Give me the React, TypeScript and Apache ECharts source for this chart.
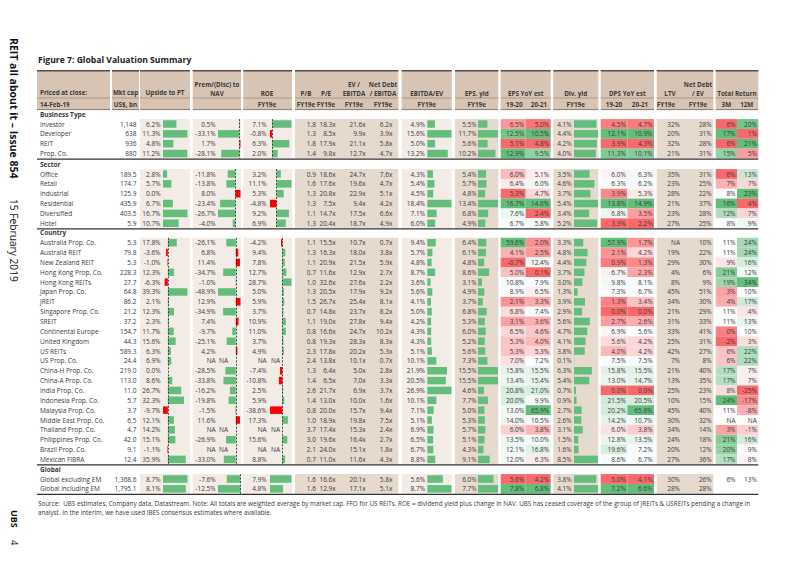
import { useEffect, useRef } from "react";
import * as echarts from "echarts";

const sectionTitles = ["Business Type", "Sector", "Country", "Global"];
const sectionSizes = [4, 6, 23, 2];

const rowNames = [
  "Investor", "Developer", "REIT", "Prop. Co.",
  "Office", "Retail", "Industrial", "Residential", "Diversified", "Hotel",
  "Australia Prop. Co.", "Australia REIT", "New Zealand REIT", "Hong Kong Prop. Co.", "Hong Kong REITs",
  "Japan Prop. Co.", "JREIT", "Singapore Prop. Co.", "SREIT", "Continental Europe", "United Kingdom",
  "US REITs", "US Prop. Co.", "China-H Prop. Co.", "China-A Prop. Co.", "India Prop. Co.",
  "Indonesia Prop. Co.", "Malaysia Prop. Co.", "Middle East Prop. Co.", "Thailand Prop. Co.",
  "Philippines Prop. Co.", "Brazil Prop. Co.", "Mexican FIBRA",
  "Global excluding EM", "Global including EM",
];
const mktCap = [1148, 638, 936, 880, 189.5, 174.7, 125.9, 435.9, 403.5, 5.9, 5.3, 79.8, 5.3, 228.3, 27.7, 64.8, 86.2, 21.2, 37.2, 154.7, 44.3, 589.3, 24.4, 219.0, 113.0, 11.0, 5.7, 3.7, 6.5, 4.7, 42.0, 9.1, 12.4, 1368.6, 1795.1];
const upsidePT = [6.2, 11.3, 4.8, 11.2, 2.8, 5.7, 0.0, 6.7, 16.7, 10.7, 17.8, -3.6, -1.0, 12.3, -6.3, 39.3, 2.1, 12.3, 2.3, 11.7, 15.6, 6.3, 6.9, 0.0, 8.6, 26.7, 32.3, -9.7, 12.1, 14.2, 15.1, -1.1, 35.9, 8.7, 8.1];
const premNAV = [0.5, -33.1, 1.7, -28.1, -11.8, -13.8, 8.0, -23.4, -26.7, -4.0, -26.1, 6.8, 11.4, -34.7, -1.0, -48.9, 12.9, -34.9, 7.4, -9.7, -25.1, 4.2, null, -28.5, -33.8, -16.2, -19.8, -1.5, 11.6, null, -26.9, null, -33.0, -7.6, -12.5];
const roeFY19 = [7.1, -0.8, 6.3, 2.0, 3.2, 11.1, 5.3, -4.8, 9.2, 6.9, -4.2, 9.4, 7.8, 12.7, 28.7, 5.0, 5.9, 3.7, 10.9, 11.0, 3.7, 4.9, null, -7.4, -10.8, 2.5, 5.9, -38.6, 17.3, null, 15.6, null, 8.8, 7.9, 4.8];
const pbFY19 = [1.8, 1.3, 1.8, 1.4, 0.9, 1.6, 1.3, 1.3, 1.1, 1.3, 1.1, 1.3, 1.1, 0.7, 1.0, 1.3, 1.5, 0.7, 1.1, 0.8, 0.8, 2.3, 2.4, 1.3, 1.4, 2.6, 1.4, 0.8, 1.0, 3.7, 3.0, 2.1, 0.7, 1.6, 1.6];
const peFY19 = [18.3, 8.5, 17.9, 9.8, 18.6, 17.6, 20.8, 7.5, 14.7, 20.4, 15.5, 16.3, 20.9, 11.6, 32.6, 20.5, 26.7, 14.8, 19.0, 16.6, 19.3, 17.8, 13.8, 6.4, 6.5, 21.7, 13.0, 20.0, 18.9, 17.4, 19.6, 24.0, 11.0, 16.6, 12.9];
const evEbitda = [21.6, 9.9, 21.1, 12.7, 24.7, 19.6, 22.9, 9.4, 17.5, 18.7, 10.7, 18.0, 21.5, 12.9, 27.6, 17.9, 25.4, 23.7, 27.8, 24.7, 28.3, 20.2, 10.1, 5.0, 7.0, 6.9, 10.0, 15.7, 19.8, 15.3, 16.4, 15.1, 11.6, 20.1, 17.1];
const ndEbitda = [6.2, 3.9, 5.8, 4.7, 7.6, 4.7, 5.1, 4.2, 6.6, 4.9, 0.7, 3.8, 5.9, 2.7, 2.2, 9.2, 8.1, 8.2, 9.4, 10.2, 8.3, 5.3, 0.7, 2.8, 3.3, 3.7, 1.6, 9.4, 7.5, 2.4, 2.7, 1.8, 4.3, 5.8, 5.1];
const ebitdaEV = [4.9, 15.6, 5.0, 13.2, 4.3, 5.4, 4.5, 18.4, 7.1, 6.0, 9.4, 5.7, 4.8, 8.7, 3.6, 5.6, 4.1, 5.0, 4.2, 4.3, 4.3, 5.1, 10.1, 21.9, 20.5, 26.9, 10.1, 7.1, 5.1, 6.9, 6.5, 6.7, 8.8, 5.6, 8.7];
const epsYield = [5.5, 11.7, 5.6, 10.2, 5.4, 5.7, 4.8, 13.4, 6.8, 4.9, 6.4, 6.1, 4.8, 8.6, 3.1, 4.9, 3.7, 6.8, 5.3, 6.0, 5.2, 5.6, 7.3, 15.5, 15.5, 4.6, 7.7, 5.0, 5.3, 5.7, 5.1, 4.3, 9.1, 6.0, 7.7];
const epsYoY1920 = [6.5, 12.5, 5.1, 12.9, 6.0, 6.4, 5.3, 16.7, 7.6, 6.7, 59.6, 4.1, -0.7, 5.0, 10.8, 8.9, 2.1, 6.8, 3.1, 6.5, 5.3, 5.3, 7.0, 15.8, 13.4, 20.8, 20.0, 13.0, 14.0, 6.0, 13.5, 12.1, 12.0, 5.6, 7.8];
const epsYoY2021 = [5.0, 10.5, 4.8, 9.5, 5.1, 6.0, 4.7, 14.6, 2.4, 5.8, 2.0, 2.5, 12.4, 0.1, 7.9, 6.5, 3.3, 7.4, 3.6, 4.6, 4.0, 5.3, 7.2, 15.5, 15.4, 21.0, 9.9, 65.9, 10.5, 3.8, 10.0, 16.8, 6.3, 4.2, 6.8];
const divYield = [4.1, 4.4, 4.2, 4.0, 3.5, 4.6, 3.7, 5.4, 3.4, 5.2, 3.3, 4.8, 4.4, 3.7, 3.0, 1.3, 3.9, 2.9, 5.6, 4.7, 4.1, 3.8, 0.1, 6.3, 5.4, 0.7, 0.9, 2.7, 2.6, 3.1, 1.5, 1.6, 8.5, 3.8, 4.1];
const dpsYoY1920 = [4.5, 12.1, 3.9, 11.3, 6.0, 6.3, 3.9, 13.8, 6.8, 3.3, 57.9, 2.1, 0.9, 6.7, 9.8, 7.3, 1.3, 0.0, 2.7, 6.9, 5.6, 4.0, 7.5, 15.8, 13.0, 0.0, 21.5, 20.2, 14.2, 6.0, 12.8, 19.6, 8.6, 5.0, 7.2];
const dpsYoY2021 = [4.7, 10.9, 4.3, 10.1, 6.3, 6.2, 5.3, 14.9, 3.5, 2.2, 1.7, 4.2, 1.3, 2.3, 8.1, 6.7, 3.4, 0.0, 2.6, 5.6, 4.2, 4.2, 7.5, 15.5, 14.7, 0.0, 20.5, 65.6, 10.7, 3.8, 13.5, 7.2, 6.7, 4.1, 6.6];
const ltvFY19 = [32, 20, 32, 21, 35, 23, 28, 21, 23, 27, null, 19, 29, 4, 8, 45, 34, 21, 31, 33, 25, 42, 7, 21, 13, 25, 10, 45, 30, 34, 24, 20, 27, 30, 28];
const ndEV = [28, 31, 28, 31, 31, 25, 22, 37, 28, 25, 10, 22, 30, 6, 9, 51, 30, 29, 33, 41, 31, 27, 8, 40, 35, 23, 15, 40, 32, 14, 18, 12, 36, 26, 28];
const return3M = [6, 17, 6, 15, 6, 7, 8, 16, 12, 8, 11, 11, 9, 21, 19, 3, 4, 11, 11, 0, -2, 6, 6, 17, 17, 8, 24, 11, null, 3, 21, 20, 17, 6, undefined];
const return12M = [20, 1, 21, 5, 13, 7, 23, 4, 7, 9, 24, 24, 16, 12, 34, 10, 17, 4, 13, 10, 3, 22, 22, 7, 7, -25, -17, -8, null, -1, 16, 9, 8, 13, undefined];

const FONT = "'Open Sans', 'Noto Sans', sans-serif";
const FS = 6.5;
const HFS = 6.3;
const TXT = "#3a3a3a";
const GREEN = "#63be7b";
const RED_BAR = "#ff0000";
const TAN = "#e6d9ce";
const LIGHT = "#f2ebe6";
const HEAD = "#d8c4b4";
const ROW_H = 9.85;
const FIRST_ROW_Y = [124, 174, 242.7, 479];

type V = number | null | undefined;

const pct1 = (v: V) => (v == null ? "NA" : v.toFixed(1) + "%");
const mult = (v: V) => (v == null ? "NA" : v.toFixed(1) + "x");
const num1 = (v: V) => (v == null ? "NA" : v.toFixed(1));
const pct0 = (v: V) => (v === undefined ? "" : v === null ? "NA" : v + "%");

function lerp(a: number[], b: number[], t: number) {
  const c = a.map((x, i) => Math.round(x + (b[i] - x) * Math.max(0, Math.min(1, t))));
  return `rgb(${c[0]},${c[1]},${c[2]})`;
}
function heatColors(vals: V[]) {
  const nums = vals.filter((v) => typeof v === "number") as number[];
  const s = [...nums].sort((a, b) => a - b);
  const mn = s[0], mx = s[s.length - 1];
  const pos = (s.length - 1) * 0.5;
  const lo = Math.floor(pos), hi = Math.ceil(pos);
  const mid = s[lo] + (s[hi] - s[lo]) * (pos - lo);
  const R = [248, 105, 107], W = [252, 252, 255], G = [99, 190, 123];
  return vals.map((v) => {
    if (typeof v !== "number") return "#ffffff";
    if (v <= mid) return mid === mn ? lerp(R, W, 1) : lerp(R, W, (v - mn) / (mid - mn));
    return mx === mid ? lerp(W, G, 0) : lerp(W, G, (v - mid) / (mx - mid));
  });
}

function buildOption() {
  const grid: any[] = [], xAxis: any[] = [], yAxis: any[] = [], series: any[] = [], graphic: any[] = [];
  const starts = sectionSizes.map((_, i) => sectionSizes.slice(0, i).reduce((a, b) => a + b, 0));
  const labelBase = { interval: 0, fontSize: FS, fontFamily: FONT, color: TXT };

  const txt = (x: number, y: number, text: string, o: any = {}) =>
    graphic.push({
      type: "text", x, y, z: 10, rotation: o.rotation || 0,
      style: {
        text, fill: o.fill || TXT, fontSize: o.size || FS, fontWeight: o.bold ? "bold" : "normal",
        fontFamily: FONT, align: o.align || "center", verticalAlign: "middle",
      },
    });
  const rect = (x0: number, y0: number, x1: number, y1: number, fill: string, z = -1) =>
    graphic.push({ type: "rect", z, shape: { x: x0, y: y0, width: x1 - x0, height: y1 - y0 }, style: { fill } });
  const line = (x0: number, y0: number, x1: number, y1: number, stroke: string, w: number) =>
    graphic.push({ type: "line", z: 5, shape: { x1: x0, y1: y0, x2: x1, y2: y1 }, style: { stroke, lineWidth: w } });

  // ---- headers ----
  const headBlocks = [
    [37, 110], [112, 139], [140, 190], [192.7, 241], [243.3, 292], [295, 398.3], [401.7, 451.7],
    [455, 498.3], [500.7, 550.7], [553.3, 598.3], [600.7, 654], [656.7, 713.3], [715.7, 758.3],
  ];
  headBlocks.forEach(([a, b]) => {
    rect(a, 70, b, 110, HEAD);
    line(a, 70.8, b, 70.8, "#5b4b40", 1.6);
    line(a, 98, b, 98, "#a58f7e", 0.8);
    line(a, 109.6, b, 109.6, "#7d6757", 0.8);
  });
  const H = { bold: true, size: HFS };
  txt(40, 92, "Priced at close:", { ...H, align: "left" });
  txt(40, 104, "14-Feb-19", { ...H, align: "left" });
  txt(125.5, 92, "Mkt cap", H); txt(125.5, 104, "US$, bn", H);
  txt(165, 92, "Upside to PT", H);
  txt(217, 84.3, "Prem/(Disc) to", H); txt(217, 93.3, "NAV", H);
  txt(267, 93.3, "ROE", H); txt(267, 104, "FY19e", H);
  txt(306, 93.3, "P/B", H); txt(306, 104, "FY19e", H);
  txt(326, 93.3, "P/E", H); txt(326, 104, "FY19e", H);
  txt(354, 84.3, "EV /", H); txt(354, 93.3, "EBITDA", H); txt(354, 104, "FY19e", H);
  txt(383, 84.3, "Net Debt", H); txt(383, 93.3, "/ EBITDA", H); txt(383, 104, "FY19e", H);
  txt(426.7, 93.3, "EBITDA/EV", H); txt(426.7, 104, "FY19e", H);
  txt(476.7, 93.3, "EPS. yld", H); txt(476.7, 104, "FY19e", H);
  txt(525.7, 93.3, "EPS YoY est", H); txt(514.3, 104, "19-20", H); txt(539, 104, "20-21", H);
  txt(575.7, 93.3, "Div. yld", H); txt(575.7, 104, "FY19e", H);
  txt(627.3, 93.3, "DPS YoY est", H); txt(614, 104, "19-20", H); txt(640, 104, "20-21", H);
  txt(670, 93.3, "LTV", H); txt(666, 104, "FY19e", H);
  txt(698, 84.3, "Net Debt", H); txt(698, 93.3, "/ EV", H); txt(698, 104, "FY19e", H);
  txt(737, 93.3, "Total Return", H); txt(726.3, 104, "3M", H); txt(746.7, 104, "12M", H);

  sectionTitles.forEach((title, si) => {
    const n = sectionSizes[si], st = starts[si];
    const top = FIRST_ROW_Y[si] - ROW_H / 2, height = n * ROW_H;
    const ids = Array.from({ length: n }, (_, i) => st + i);
    const cats = ids.map((i) => rowNames[i]);
    const pick = (arr: V[]) => ids.map((i) => arr[i]);

    txt(40, FIRST_ROW_Y[si] - 10, title, { bold: true, align: "left" });
    line(37, top + height + 0.6, 758.3, top + height + 0.6, "#333", 1.2);

    [[140, 190, LIGHT], [192.7, 241, LIGHT], [243.3, 292, LIGHT], [295, 398.3, TAN], [401.7, 451.7, LIGHT],
     [455, 498.3, TAN], [553.3, 598.3, TAN], [656.7, 713.3, TAN]].forEach(([a, b, c]) =>
      rect(a as number, top, b as number, top + height, c as string));

    const addGrid = (left: number, width: number) => {
      grid.push({ left, width, top, height });
      return grid.length - 1;
    };
    const catAxis = (g: number, texts: string[], margin: number, align = "right") => {
      yAxis.push({
        type: "category", gridIndex: g, data: cats, inverse: true,
        axisLine: { show: false, onZero: false }, axisTick: { show: false }, splitLine: { show: false },
        axisLabel: { ...labelBase, margin, align, formatter: (_v: string, i: number) => texts[i] },
      });
      return yAxis.length - 1;
    };

    const textCol = (right: number, texts: string[], align = "right", margin = 0) => {
      const g = addGrid(right, 1);
      xAxis.push({ type: "value", gridIndex: g, show: false });
      catAxis(g, texts, margin, align);
    };

    const barCol = (vr: number, b0: number, b1: number, arr: V[], negGood = false) => {
      const vals = pick(arr);
      const g = addGrid(b0, b1 - b0);
      const nums = vals.filter((v) => typeof v === "number") as number[];
      const mn = Math.min(0, ...nums), mx = Math.max(0, ...nums);
      xAxis.push({ type: "value", gridIndex: g, min: mn, max: mx, show: false });
      const yi = catAxis(g, vals.map((v) => pct1(v)), b0 - vr);
      if (vals.some((v) => v == null)) {
        yAxis.push({
          type: "category", gridIndex: g, data: cats, inverse: true, position: "left",
          axisLine: { show: false, onZero: false }, axisTick: { show: false },
          axisLabel: { ...labelBase, margin: -1, align: "left", formatter: (_v: string, i: number) => (vals[i] == null ? "NA" : "") },
        });
      }
      series.push({
        type: "bar", xAxisIndex: xAxis.length - 1, yAxisIndex: yi, barWidth: 7.5, silent: true,
        data: vals.map((v) =>
          v == null ? "-" : { value: v, itemStyle: { color: (v < 0) !== negGood ? RED_BAR : GREEN } }),
        markLine: mn < 0
          ? { silent: true, symbol: ["none", "none"], label: { show: false },
              lineStyle: { color: "#222", type: [2, 1.5], width: 0.8 }, data: [{ xAxis: 0 }] }
          : undefined,
      });
    };

    // heat-coloured cells: full-width bars on a 0..1 value axis, one grid per sub-column
    const heatCol = (x0: number, x1: number, cols: V[][], colored: boolean, isInt: boolean) => {
      const w = (x1 - x0) / cols.length;
      cols.forEach((arr, j) => {
        const vals = pick(arr);
        const colors = colored ? heatColors(vals) : vals.map(() => "#ffffff");
        const g = addGrid(x0 + j * w, w);
        xAxis.push({ type: "value", gridIndex: g, min: 0, max: 1, show: false });
        yAxis.push({ type: "category", gridIndex: g, data: cats, inverse: true, show: false });
        series.push({
          type: "bar", xAxisIndex: xAxis.length - 1, yAxisIndex: yAxis.length - 1, silent: true,
          barCategoryGap: 0, barWidth: ROW_H,
          label: { show: true, position: "insideRight", distance: 1.5, fontSize: FS, fontFamily: FONT, color: TXT },
          data: vals.map((v, i) =>
            v === undefined
              ? "-"
              : { value: 1, itemStyle: { color: colors[i] }, label: { formatter: isInt ? pct0(v) : pct1(v) } }),
        });
      });
    };

    const capTexts = pick(mktCap).map((v) =>
      si === 0
        ? Math.round(v as number).toLocaleString("en-US")
        : (v as number).toLocaleString("en-US", { minimumFractionDigits: 1, maximumFractionDigits: 1 }));

    textCol(110, cats.map((c) => c), "left", 70);
    textCol(136.5, capTexts);
    barCol(160.5, 163, 187.5, upsidePT);
    barCol(215.7, 218, 240.5, premNAV, true);
    barCol(266.7, 270, 291.5, roeFY19);
    textCol(316, pick(pbFY19).map(num1));
    textCol(335.7, pick(peFY19).map(mult));
    textCol(365.7, pick(evEbitda).map(mult));
    textCol(392.3, pick(ndEbitda).map(mult));
    barCol(425, 427.3, 451.5, ebitdaEV);
    barCol(476.7, 478, 498, epsYield);
    heatCol(500.7, 550.7, [epsYoY1920, epsYoY2021], true, false);
    barCol(571.7, 574, 598, divYield);
    heatCol(600.7, 654, [dpsYoY1920, dpsYoY2021], true, false);
    textCol(680, pick(ltvFY19).map(pct0));
    textCol(711.7, pick(ndEV).map(pct0));
    heatCol(715.7, 758.3, [return3M, return12M], si < 3, true);
  });

  // title, footer, margin texts
  txt(38, 60, "Figure 7: Global Valuation Summary", { bold: true, size: 8.6, align: "left", fill: "#222" });
  txt(38, 503, "Source:  UBS estimates, Company data, Datastream. Note: All totals are weighted average by market cap. FFO for US REITs. ROE = dividend yield plus change in NAV. UBS has ceased coverage of the group of JREITs & USREITs pending a change in", { align: "left", size: 6.3 });
  txt(38, 512, "analyst. In the interim, we have used IBES consensus estimates where available.", { align: "left", size: 6.3 });
  txt(14, 38, "REIT all about it – Issue 854", { bold: true, size: 10.5, align: "left", rotation: -Math.PI / 2, fill: "#111" });
  txt(14, 199, "15 February 2019", { size: 10.2, align: "left", rotation: -Math.PI / 2, fill: "#111" });
  txt(14, 510, "UBS", { bold: true, size: 9, align: "left", rotation: -Math.PI / 2, fill: "#111" });
  txt(14, 540, "4", { size: 9.5, align: "left", rotation: -Math.PI / 2, fill: "#111" });

  return { animation: false, backgroundColor: "#ffffff", grid, xAxis, yAxis, series, graphic: { elements: graphic } };
}

export default function App() {
  const ref = useRef<HTMLDivElement>(null);
  useEffect(() => {
    const chart = echarts.init(ref.current!, null, { renderer: "svg" });
    chart.setOption(buildOption() as any);
    return () => chart.dispose();
  }, []);
  return <div ref={ref} style={{ position: "fixed", left: 0, top: 0, width: 802, height: 567, background: "#fff" }} />;
}
